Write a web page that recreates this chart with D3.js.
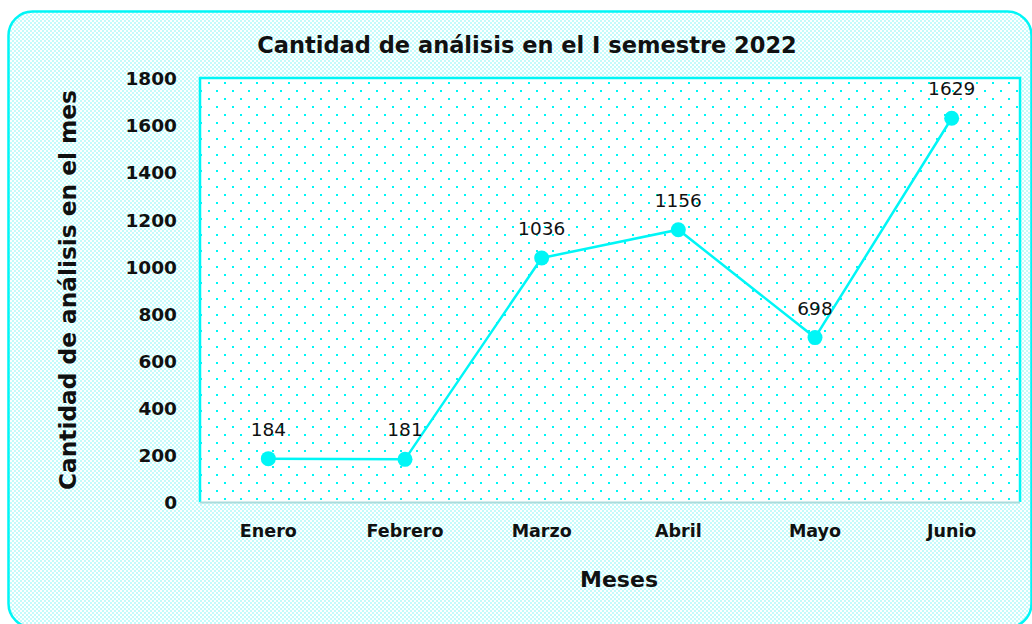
<!DOCTYPE html>
<html>
<head>
<meta charset="utf-8">
<script src="https://cdn.jsdelivr.net/npm/d3@7"></script>
<style>
  html, body { margin: 0; padding: 0; background: #ffffff; }
  svg { display: block; }
  text { font-family: "DejaVu Sans", sans-serif; fill: #111; }
</style>
</head>
<body>
<svg id="chart" width="1032" height="624"></svg>
<script>
// Monthly analysis counts, first semester 2022
const months = ["Enero", "Febrero", "Marzo", "Abril", "Mayo", "Junio"];
const counts = [184, 181, 1036, 1156, 698, 1629];
const yTicks = [0, 200, 400, 600, 800, 1000, 1200, 1400, 1600, 1800];

const titleText = "Cantidad de análisis en el I semestre 2022";
const yTitleText = "Cantidad de análisis en el mes";
const xTitleText = "Meses";

const plot = { left: 200, top: 78, right: 1020, bottom: 502 };
const cyan = "#00f6f6";
const font = "'DejaVu Sans', sans-serif";

const svg = d3.select("#chart");
const defs = svg.append("defs");

// Shrink or grow a text's font size so it spans the given width
function fitWidth(sel, target) {
  const node = sel.node();
  const fs = parseFloat(sel.attr("font-size"));
  const w = node.getComputedTextLength();
  if (w > 0) sel.attr("font-size", (fs * target / w).toFixed(2));
  return sel;
}

// Fine checkerboard for the chart background
const checker = defs.append("pattern")
  .attr("id", "checker").attr("patternUnits", "userSpaceOnUse")
  .attr("width", 4).attr("height", 4);
checker.append("rect").attr("width", 4).attr("height", 4).attr("fill", "#ffffff");
checker.append("rect").attr("x", 0).attr("y", 0).attr("width", 2).attr("height", 2).attr("fill", "#c4fbfb");
checker.append("rect").attr("x", 2).attr("y", 2).attr("width", 2).attr("height", 2).attr("fill", "#c4fbfb");

// Staggered dot grid for the plot area
const dots = defs.append("pattern")
  .attr("id", "dots").attr("patternUnits", "userSpaceOnUse")
  .attr("width", 16).attr("height", 16);
dots.append("rect").attr("width", 16).attr("height", 16).attr("fill", "#ffffff");
dots.append("rect").attr("x", 0).attr("y", 2).attr("width", 2).attr("height", 2).attr("fill", cyan);
dots.append("rect").attr("x", 8).attr("y", 10).attr("width", 2).attr("height", 2).attr("fill", cyan);

// Outer chart frame (runs slightly past the right and bottom edges)
svg.append("rect")
  .attr("x", 8.5).attr("y", 11.5)
  .attr("width", 1023).attr("height", 616)
  .attr("rx", 24).attr("ry", 24)
  .attr("fill", "url(#checker)")
  .attr("stroke", cyan).attr("stroke-width", 2.5);

// Plot area
svg.append("rect")
  .attr("x", plot.left).attr("y", plot.top)
  .attr("width", plot.right - plot.left).attr("height", plot.bottom - plot.top)
  .attr("fill", "url(#dots)");
svg.append("path")
  .attr("d", `M${plot.left},${plot.bottom} V${plot.top} H${plot.right} V${plot.bottom}`)
  .attr("fill", "none").attr("stroke", cyan).attr("stroke-width", 2.5);
svg.append("line")
  .attr("x1", plot.left).attr("x2", plot.right)
  .attr("y1", plot.bottom + 0.5).attr("y2", plot.bottom + 0.5)
  .attr("stroke", "#a9dcdc").attr("stroke-width", 2);

// Scales
const x = d3.scaleBand().domain(months).range([plot.left, plot.right]);
const y = d3.scaleLinear().domain([0, 1800]).range([plot.bottom, plot.top]);

// Y axis labels
const yAxis = d3.axisLeft(y).tickValues(yTicks).tickFormat(d3.format("d"))
  .tickSize(0).tickPadding(0);
const gy = svg.append("g").attr("transform", `translate(177,0)`).call(yAxis);
gy.select(".domain").remove();
gy.selectAll("text")
  .attr("font-family", font)
  .attr("font-size", 18.5).attr("font-weight", "bold").attr("fill", "#111")
  .attr("dy", "0.36em");

// X axis labels
const xAxis = d3.axisBottom(x).tickSize(0).tickPadding(0);
const gx = svg.append("g").attr("transform", `translate(0,${plot.bottom})`).call(xAxis);
gx.select(".domain").remove();
gx.selectAll("text")
  .attr("font-family", font)
  .attr("font-size", 17.5).attr("font-weight", "bold").attr("fill", "#111")
  .attr("y", 35).attr("dy", 0);

// Series
const pts = months.map((m, i) => ({ m, v: counts[i] }));
const cx = d => x(d.m) + x.bandwidth() / 2;
const line = d3.line().x(cx).y(d => y(d.v));
svg.append("path").datum(pts)
  .attr("d", line).attr("fill", "none")
  .attr("stroke", cyan).attr("stroke-width", 2.5);
svg.selectAll("circle.pt").data(pts).join("circle")
  .attr("class", "pt")
  .attr("cx", cx)
  .attr("cy", d => y(d.v))
  .attr("r", 7.5).attr("fill", cyan);

// Value labels
svg.selectAll("text.val").data(pts).join("text")
  .attr("class", "val")
  .attr("x", cx)
  .attr("y", d => y(d.v) - 23)
  .attr("text-anchor", "middle")
  .attr("font-size", 18.5).attr("fill", "#222")
  .text(d => d.v);

// Titles
fitWidth(svg.append("text")
  .attr("x", 527).attr("y", 53).attr("text-anchor", "middle")
  .attr("font-size", 20).attr("font-weight", "bold")
  .text(titleText), 540);

fitWidth(svg.append("text")
  .attr("transform", "translate(76,290) rotate(-90)")
  .attr("text-anchor", "middle")
  .attr("font-size", 21).attr("font-weight", "bold")
  .text(yTitleText), 400);

fitWidth(svg.append("text")
  .attr("x", 619).attr("y", 587).attr("text-anchor", "middle")
  .attr("font-size", 22).attr("font-weight", "bold")
  .text(xTitleText), 78);
</script>
</body>
</html>
